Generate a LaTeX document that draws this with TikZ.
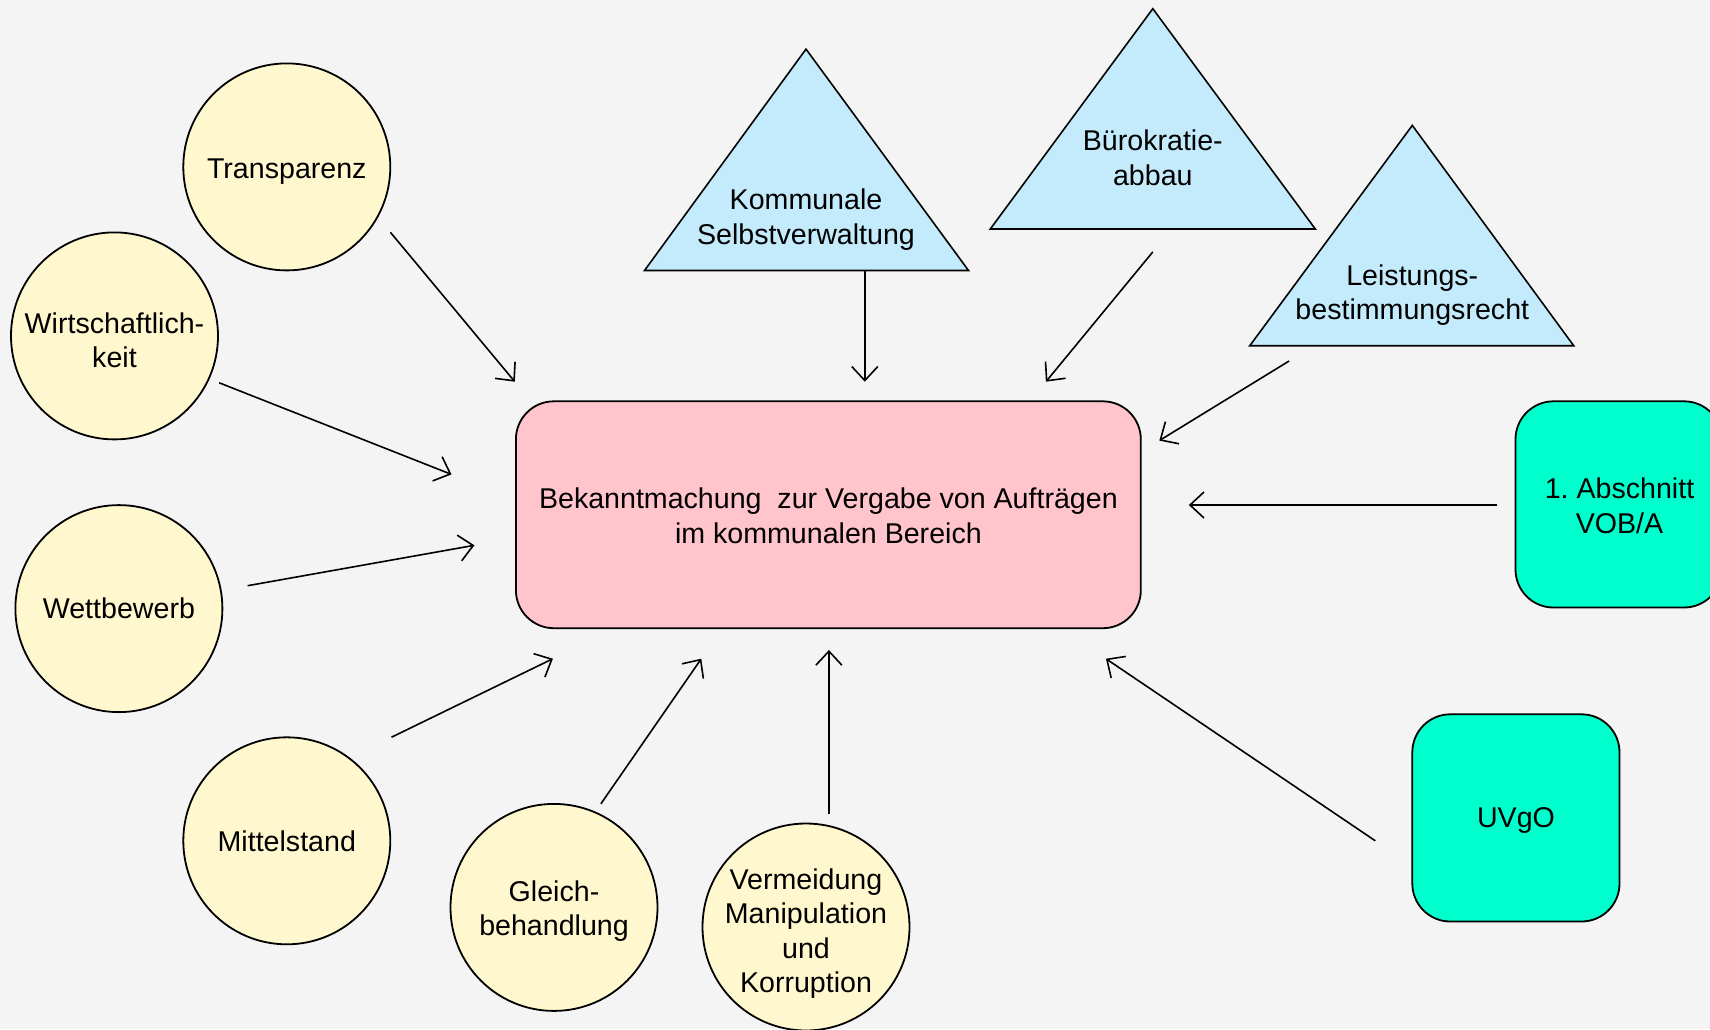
\documentclass[tikz,border=0pt]{standalone}
\usepackage{fontspec}
\setmainfont{Liberation Sans}
\usetikzlibrary{arrows.meta}
\frenchspacing
\definecolor{bg}{HTML}{F4F4F4}
\definecolor{ylw}{HTML}{FFF8CE}
\definecolor{lblue}{HTML}{C4EBFC}
\definecolor{pinkbox}{HTML}{FFC4CC}
\definecolor{teal}{HTML}{00FFCC}
\tikzset{
  txt/.style={font=\fontsize{28.6}{34.5}\selectfont, align=center, inner sep=0pt},
  circ/.style={circle, draw=black, line width=1.8pt, fill=ylw, minimum size=207pt, inner sep=0pt},
  tri/.style={draw=black, line width=1.6pt, fill=lblue, line join=miter},
  rbox/.style={draw=black, line width=1.8pt, rounded corners=38pt},
  arr/.style={line width=1.6pt, -{Straight Barb[length=14pt,width=26pt,line width=1.6pt]}},
}
\begin{document}
\begin{tikzpicture}[x=1pt,y=-1pt]
\fill[bg] (0,0) rectangle (1710,1029);
\useasboundingbox (0,0) rectangle (1710,1029);
\begin{scope}
\clip (0,0) rectangle (1710,1029);
% central box
\draw[rbox, fill=pinkbox] (515.9,401.3) rectangle (1140.8,628.2);
\node[txt] (central) at (828.4,516) {Bekanntmachung\ \ zur Vergabe von Aufträgen\\im kommunalen Bereich};
% teal boxes
\draw[rbox, fill=teal] (1515.5,401.3) rectangle (1722,607.5);
\node[txt] (vob) at (1619.5,506) {1. Abschnitt\\VOB/A};
\draw[rbox, fill=teal] (1412.3,714.3) rectangle (1619.5,921.5);
\node[txt] (uvgo) at (1516,820.2) {UVgO};
% triangles
\draw[tri] (806.0,49.1) -- (968.5,270.5) -- (644.5,270.5) -- cycle;
\node[txt] (kommunal) at (806,219.8) {Kommunale\\Selbstverwaltung};
\draw[tri] (1152.8,8.7) -- (1315.3,229.0) -- (990.3,229.0) -- cycle;
\node[txt] (buero) at (1152.8,157.6) {Bürokratie-\\abbau};
\draw[tri] (1412.3,125.4) -- (1573.7,345.7) -- (1249.8,345.7) -- cycle;
\node[txt] (leistung) at (1412.3,295.0) {Leistungs-\\bestimmungsrecht};
% circles
\node[circ] (transparenz) at (286.8,166.9) {};
\node[txt] (transparenz-t) at (286.8,171.3) {Transparenz};
\node[circ] (wirtschaft) at (114.5,335.9) {};
\node[txt] (wirtschaft-t) at (114.5,340.2) {Wirtschaftlich-\\keit};
\node[circ] (wettbewerb) at (118.9,608.6) {};
\node[txt] (wettbewerb-t) at (118.9,608.6) {Wettbewerb};
\node[circ] (mittelstand) at (286.8,840.8) {};
\node[txt] (mittelstand-t) at (286.8,840.8) {Mittelstand};
\node[circ] (gleich) at (554.0,907.4) {};
\node[txt] (gleich-t) at (554.0,911.2) {Gleich-\\behandlung};
\node[circ] (vermeidung) at (806.0,927.0) {};
\node[txt] (vermeidung-t) at (806.0,933.5) {Vermeidung\\Manipulation\\und\\Korruption};
% arrow endpoints
\coordinate (s1) at (390.4,232.3);  \coordinate (e1) at (514.8,381.7);
\coordinate (s2) at (219.2,382.8);  \coordinate (e2) at (451.5,474.4);
\coordinate (s3) at (247.6,585.7);  \coordinate (e3) at (474.4,545.3);
\coordinate (s4) at (391.5,737.2);  \coordinate (e4) at (552.9,658.7);
\coordinate (s5) at (600.9,803.8);  \coordinate (e5) at (701.3,658.7);
\coordinate (s6) at (828.9,813.6);  \coordinate (e6) at (828.9,650.0);
\coordinate (s7) at (864.8,270.5);  \coordinate (e7) at (864.8,381.7);
\coordinate (s8) at (1152.8,251.9); \coordinate (e8) at (1045.9,381.7);
\coordinate (s9) at (1289.1,361.0); \coordinate (e9) at (1159.3,440.6);
\coordinate (s10) at (1497.4,505.0); \coordinate (e10) at (1188.8,505.0);
\coordinate (s11) at (1375.3,840.8); \coordinate (e11) at (1105.9,658.7);
\foreach \i in {1,...,11} {\draw[arr] (s\i) -- (e\i);}
\end{scope}
\end{tikzpicture}
\end{document}
